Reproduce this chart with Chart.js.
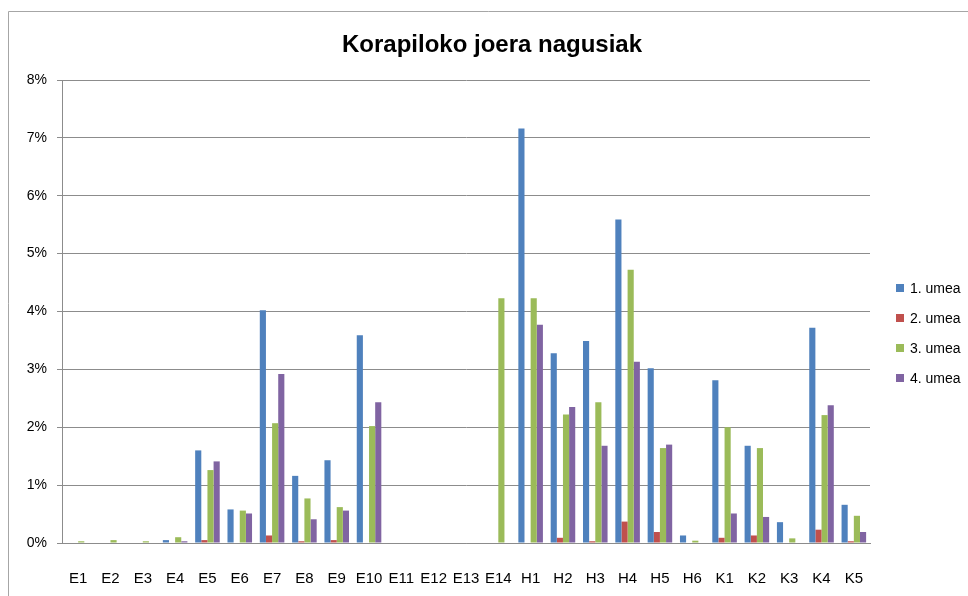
<!DOCTYPE html>
<html>
<head>
<meta charset="utf-8">
<script src="https://cdn.jsdelivr.net/npm/chart.js@4/dist/chart.umd.min.js"></script>
<style>
html,body{margin:0;padding:0;background:#fff;}
#wrap{width:968px;height:596px;position:relative;}
</style>
</head>
<body>
<div id="wrap"><canvas id="c" width="968" height="596"></canvas></div>
<script>
const titleText = 'Korapiloko joera nagusiak';
const categories = ['E1','E2','E3','E4','E5','E6','E7','E8','E9','E10','E11','E12','E13','E14','H1','H2','H3','H4','H5','H6','K1','K2','K3','K4','K5'];
const seriesNames = ['1. umea','2. umea','3. umea','4. umea'];
const umea1 = [0,0,0,0.05,1.60,0.58,4.02,1.16,1.43,3.59,0,0,0,0,7.16,3.28,3.49,5.59,3.02,0.13,2.81,1.68,0.36,3.72,0.66];
const umea2 = [0,0,0,0,0.05,0,0.13,0.03,0.05,0,0,0,0,0,0,0.09,0.03,0.37,0.19,0,0.09,0.13,0,0.23,0.03];
const umea3 = [0.03,0.05,0.03,0.10,1.26,0.56,2.07,0.77,0.62,2.02,0,0,0,4.23,4.23,2.22,2.43,4.72,1.64,0.04,2.00,1.64,0.08,2.21,0.47];
const umea4 = [0,0,0,0.03,1.41,0.51,2.92,0.41,0.56,2.43,0,0,0,0,3.77,2.35,1.68,3.13,1.70,0,0.51,0.45,0,2.38,0.19];
const yTicks = [0,1,2,3,4,5,6,7,8];
const colors = ['#4F81BD','#C0504D','#9BBB59','#8064A2'];

const FONT = "'Liberation Sans', Arial, sans-serif";

const framePlugin = {
  id: 'frame',
  beforeDraw(chart) {
    const ctx = chart.ctx;
    ctx.save();
    ctx.fillStyle = '#fff';
    ctx.fillRect(0,0,chart.width,chart.height);
    ctx.strokeStyle = '#A6A6A6';
    ctx.lineWidth = 1;
    ctx.beginPath();
    ctx.moveTo(8.5, chart.height);
    ctx.lineTo(8.5, 11.5);
    ctx.lineTo(chart.width, 11.5);
    ctx.stroke();
    ctx.restore();
  },
  afterDraw(chart) {
    const ctx = chart.ctx;
    ctx.save();
    // title
    ctx.fillStyle = '#000';
    ctx.font = "bold 24px " + FONT;
    ctx.textAlign = 'center';
    ctx.textBaseline = 'middle';
    ctx.fillText(titleText, 492, 45);
    // legend
    ctx.font = "14px " + FONT;
    ctx.textAlign = 'left';
    const rows = [288, 318, 348, 378];
    chart.data.datasets.forEach((ds, i) => {
      ctx.fillStyle = ds.backgroundColor;
      ctx.fillRect(896, rows[i] - 4, 8, 8);
      ctx.fillStyle = '#000';
      ctx.fillText(ds.label, 910, rows[i] + 1);
    });
    ctx.restore();
  }
};

const datasets = [umea1, umea2, umea3, umea4].map((d, i) => ({
  label: seriesNames[i],
  data: d,
  backgroundColor: colors[i],
  borderWidth: 0,
  categoryPercentage: 0.76,
  barPercentage: 1.0
}));

new Chart(document.getElementById('c'), {
  type: 'bar',
  data: { labels: categories, datasets },
  plugins: [framePlugin],
  options: {
    responsive: false,
    devicePixelRatio: 1,
    animation: false,
    layout: { padding: { top: 80, right: 98, bottom: 0, left: 0 } },
    plugins: { legend: { display: false }, title: { display: false }, tooltip: { enabled: false } },
    scales: {
      x: {
        grid: { display: false, drawTicks: false },
        border: { display: true, color: '#8C8C8C', width: 1 },
        ticks: { color: '#000', font: { family: FONT, size: 15 }, padding: 27, maxRotation: 0, autoSkip: false },
        afterFit(scale) { scale.height = 53; }
      },
      y: {
        min: 0, max: 8,
        afterBuildTicks(scale) { scale.ticks = yTicks.map(v => ({ value: v })); },
        grid: { color: '#8C8C8C', lineWidth: 1, drawTicks: true, tickLength: 5 },
        border: { display: true, color: '#8C8C8C', width: 1 },
        ticks: { color: '#000', font: { family: FONT, size: 14 }, padding: 10, callback: v => v + '%' },
        afterFit(scale) { scale.width = 62; }
      }
    }
  }
});
</script>
</body>
</html>
